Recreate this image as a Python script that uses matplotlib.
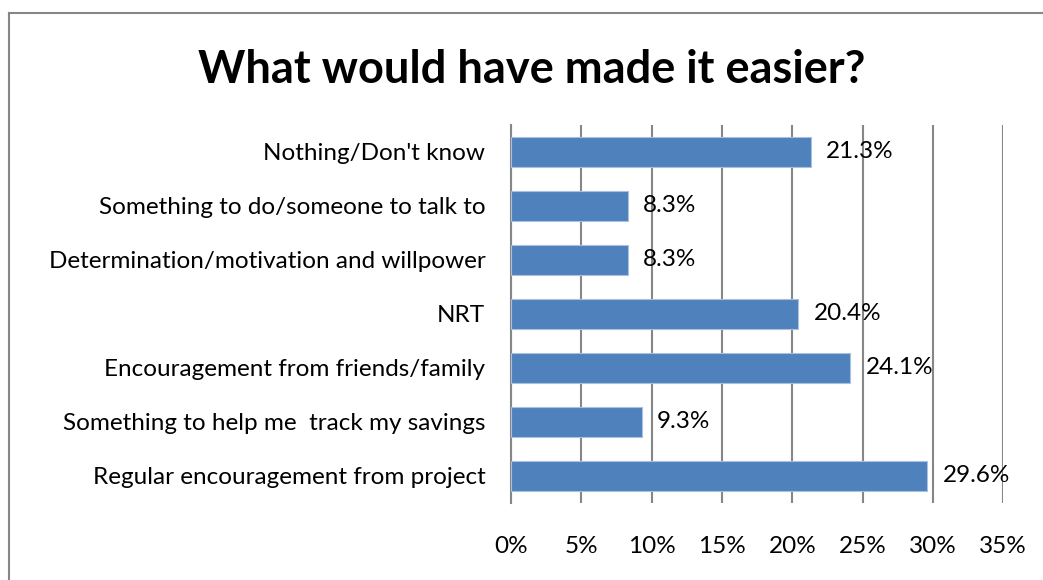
import matplotlib
matplotlib.use("Agg")
import matplotlib.pyplot as plt
from matplotlib.lines import Line2D
from matplotlib.ticker import PercentFormatter

categories = [
    "Nothing/Don't know",
    "Something to do/someone to talk to",
    "Determination/motivation and willpower",
    "NRT",
    "Encouragement from friends/family",
    "Something to help me  track my savings",
    "Regular encouragement from project",
]
values = [21.3, 8.3, 8.3, 20.4, 24.1, 9.3, 29.6]
xticks = [0, 5, 10, 15, 20, 25, 30, 35]

plt.rcParams['font.family'] = ['Lato', 'DejaVu Sans']

fig = plt.figure(figsize=(10.43, 5.8), dpi=100)
ax = fig.add_axes([0.4899, 0.1328, 0.4720, 0.6517])

pos = list(range(len(categories)))[::-1]
ax.barh(pos, values, height=0.57, color='#4F81BD', edgecolor='#a9c1df',
        linewidth=0.8, zorder=3)

for p, v in zip(pos, values):
    ax.text(v + 1.1, p, f"{v:.1f}%", va='center', ha='left',
            fontsize=17.5, color='black', zorder=4)

ax.set_xlim(0, 35)
ax.set_ylim(-0.5, len(categories) - 0.5)
ax.set_xticks(xticks)
ax.xaxis.set_major_formatter(PercentFormatter(decimals=0))
ax.set_yticks(pos)
ax.set_yticklabels(categories)
ax.tick_params(axis='both', length=0, labelsize=17.5, colors='black')
ax.tick_params(axis='x', pad=24)
ax.tick_params(axis='y', pad=18.5)

ax.grid(axis='x', color='#868686', linewidth=1.5, zorder=0)
for s in ['top', 'right', 'bottom']:
    ax.spines[s].set_visible(False)
ax.spines['left'].set_color('#868686')
ax.spines['left'].set_linewidth(1.5)

fig.text(0.51, 0.88, "What would have made it easier?", ha='center',
         va='center', fontsize=32.5, fontweight='bold')

# outer chart frame, only top and left edges fall inside the image
fig.add_artist(Line2D([9 / 1043, 9 / 1043], [0, 1 - 13 / 580],
                      color='#868686', linewidth=1.5))
fig.add_artist(Line2D([9 / 1043, 1], [1 - 13 / 580, 1 - 13 / 580],
                      color='#868686', linewidth=1.5))

fig.savefig("out.png", dpi=100)
